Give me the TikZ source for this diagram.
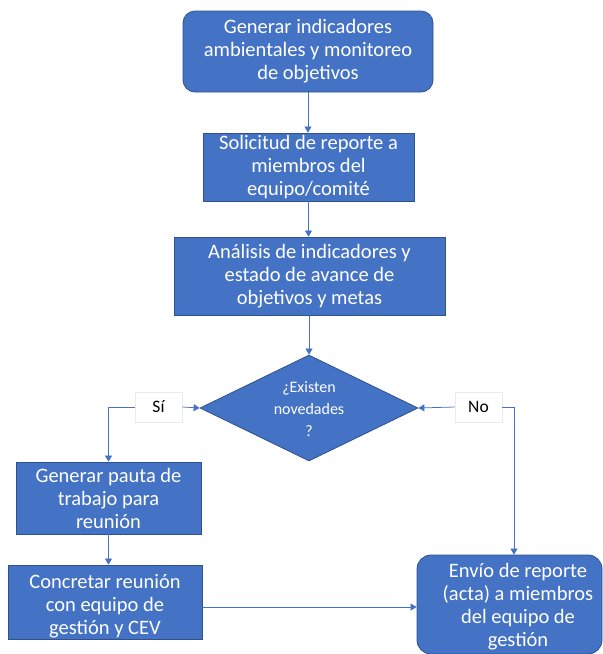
\documentclass[tikz,border=0pt]{standalone}
\usepackage{fontspec}
\setmainfont{Carlito}
\usetikzlibrary{arrows.meta,shapes.geometric}
\definecolor{boxfill}{HTML}{4472C4}
\definecolor{boxline}{HTML}{2F528F}
\definecolor{connc}{HTML}{4472C4}
\begin{document}
\begin{tikzpicture}[x=1pt,y=-1pt,
  stepbox/.style={draw=boxline,line width=0.8pt,fill=boxfill,text=white,align=center,
    font=\fontsize{20.5}{23}\selectfont,inner sep=0pt},
  lbl/.style={draw=black!8,fill=white,line width=0.6pt,minimum width=47pt,minimum height=30pt,
    inner sep=0pt,font=\fontsize{17.5}{20}\selectfont},
  conn/.style={draw=connc,line width=0.75pt,-{Triangle[length=6pt,width=7pt]}},
  plain/.style={draw=connc,line width=0.75pt}]
\useasboundingbox (0,0) rectangle (603,654);
\clip (0,0) rectangle (603,654);
\node[stepbox,rounded corners=12pt,minimum width=250pt,minimum height=81pt] (b1) at (308,51.5)
  {Generar indicadores\\ambientales y monitoreo\\de objetivos};
\node[stepbox,minimum width=211pt,minimum height=68pt] (b2) at (308.5,167)
  {Solicitud de reporte a\\miembros del\\equipo/comité};
\node[stepbox,minimum width=271pt,minimum height=78pt] (b3) at (309.5,276)
  {Análisis de indicadores y\\estado de avance de\\objetivos y metas};
\node[diamond,draw=boxline,line width=0.8pt,fill=boxfill,minimum width=218pt,minimum height=106pt,
  inner sep=0pt] (d) at (309,408) {};
\node[text=white,align=center,font=\fontsize{16}{22}\selectfont] (dt) at (309,409)
  {¿Existen\\novedades\\?};
\node[stepbox,minimum width=185pt,minimum height=72pt] (b4) at (108.5,498)
  {Generar pauta de\\trabajo para\\reunión};
\node[stepbox,minimum width=194pt,minimum height=74pt] (b5) at (105,602) {};
\node[text=white,align=center,font=\fontsize{20.5}{23}\selectfont] (b5t) at (105,606)
  {Concretar reunión\\con equipo de\\gestión y CEV};
\node[stepbox,rounded corners=14pt,minimum width=185pt,minimum height=99pt] (b6) at (509.5,604.5) {};
\node[text=white,align=center,font=\fontsize{20.5}{23}\selectfont] (b6t) at (518,606.5)
  {Envío de reporte\\(acta) a miembros\\del equipo de\\gestión};
\node[lbl] (si) at (158.5,407) {Sí};
\node[lbl] (no) at (478.5,407) {No};
\coordinate (nIn) at ([xshift=4.5pt]b6.north);
\coordinate (c5) at ([yshift=-5pt]b5.east);
\draw[conn] (b1.south) -- (b1.south |- b2.north);
\draw[conn] (b2.south) -- (b2.south |- b3.north);
\draw[conn] (d.north |- b3.south) -- (d.north);
\draw[conn] (si.east) -- (d.west);
\draw[conn] (si.west) -| (b4.north);
\draw[conn] (no.west) -- (d.east);
\draw[conn] (no.east) -| (nIn);
\draw[conn] (b4.south) -- (b4.south |- b5.north);
\draw[conn] (c5) -- (c5 -| b6.west);
\end{tikzpicture}
\end{document}
